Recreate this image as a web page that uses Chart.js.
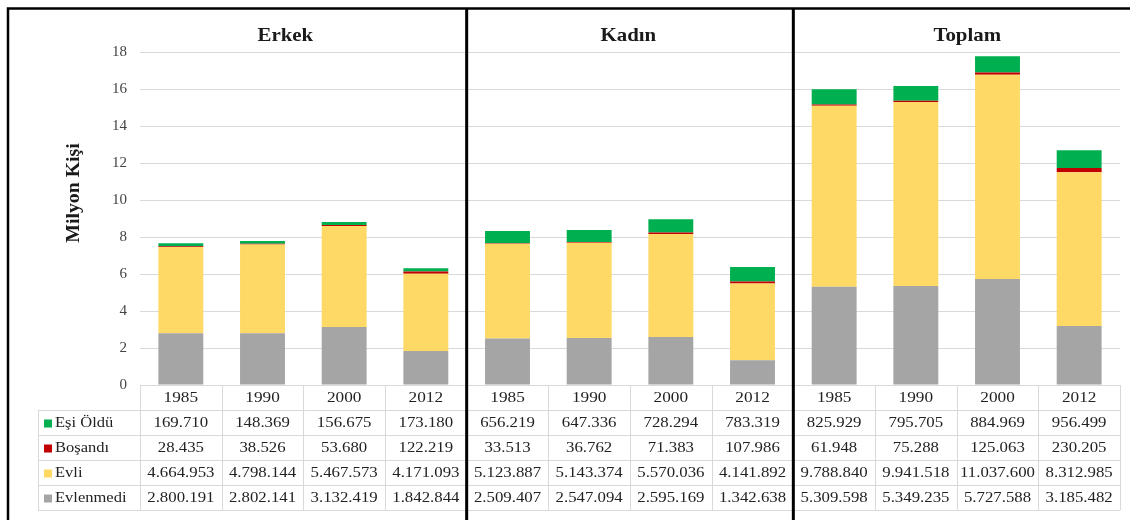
<!DOCTYPE html>
<html><head><meta charset="utf-8">
<script src="https://cdn.jsdelivr.net/npm/chart.js@4/dist/chart.umd.min.js"></script>
<style>html,body{margin:0;padding:0;background:#fff;}#wrap{width:1130px;height:520px;position:relative;}</style>
</head><body><div id="wrap"><canvas id="c" width="1130" height="520"></canvas></div>
<script>
// ---- data ----
const years = ['1985','1990','2000','2012','1985','1990','2000','2012','1985','1990','2000','2012'];
const groupTitles = ['Erkek','Kadın','Toplam'];
const groupTitlePos = [1.28, 5.48, 9.63];
const seriesNames = ['Eşi Öldü','Boşandı','Evli','Evlenmedi'];
const seriesColors = ['#00B050','#C00000','#FFD966','#A5A5A5'];
const esiOldu = [169710,148369,156675,173180,656219,647336,728294,783319,825929,795705,884969,956499];
const bosandi = [28435,38526,53680,122219,33513,36762,71383,107986,61948,75288,125063,230205];
const evli = [4664953,4798144,5467573,4171093,5123887,5143374,5570036,4141892,9788840,9941518,11037600,8312985];
const evlenmedi = [2800191,2802141,3132419,1842844,2509407,2547094,2595169,1342638,5309598,5349235,5727588,3185482];
const yTicks = [0,2,4,6,8,10,12,14,16,18];
const yTitle = 'Milyon Kişi';

const seriesValues = [esiOldu, bosandi, evli, evlenmedi];
const fmt = n => String(n).replace(/\B(?=(\d{3})+(?!\d))/g, '.');
const SERIF = '"Liberation Serif","DejaVu Serif",serif';

function stretchText(ctx, text, x, y, font, sx, align, color){
  ctx.save();
  ctx.font = font; ctx.fillStyle = color || '#222';
  ctx.textBaseline = 'middle'; ctx.textAlign = align || 'center';
  ctx.translate(x, y); ctx.scale(sx, 1);
  ctx.fillText(text, 0, 0);
  ctx.restore();
}

const decor = {
  id: 'decor',
  afterDraw(chart){
    const ctx = chart.ctx, xs = chart.scales.x, ca = chart.chartArea;
    const step = xs.getPixelForValue(1) - xs.getPixelForValue(0);
    const rowH = 25, top = ca.bottom, n = years.length;
    const legLeft = 38;
    const bnd = i => xs.getPixelForValue(i) - step/2;
    const right = bnd(n);
    // table grid
    ctx.save();
    ctx.strokeStyle = '#D9D9D9'; ctx.lineWidth = 1;
    for (let k = 1; k <= 5; k++){
      const yy = Math.round(top + k*rowH) + 0.5;
      ctx.beginPath(); ctx.moveTo(legLeft, yy); ctx.lineTo(right, yy); ctx.stroke();
    }
    for (let i = 0; i <= n; i++){
      const xx = Math.round(bnd(i)) + 0.5;
      ctx.beginPath(); ctx.moveTo(xx, top); ctx.lineTo(xx, top + 5*rowH); ctx.stroke();
    }
    ctx.beginPath(); ctx.moveTo(legLeft+0.5, top+rowH); ctx.lineTo(legLeft+0.5, top+5*rowH); ctx.stroke();
    ctx.restore();
    // year row
    const tf = '15px ' + SERIF;
    years.forEach((yv, i) => stretchText(ctx, yv, xs.getPixelForValue(i), top + rowH/2 + 1, tf, 1.15));
    // series rows
    seriesNames.forEach((nm, r) => {
      const cy = top + (r+1)*rowH + rowH/2 + 1;
      ctx.fillStyle = seriesColors[r];
      ctx.fillRect(44, cy - 4, 8, 8);
      stretchText(ctx, nm, 55, cy, tf, 1.1, 'left');
      seriesValues[r].forEach((v, i) => stretchText(ctx, fmt(v), xs.getPixelForValue(i), cy, tf, 1.12));
    });
    // panel titles
    groupTitles.forEach((t, g) => stretchText(ctx, t, xs.getPixelForValue(groupTitlePos[g]), 36, 'bold 19px ' + SERIF, 1.1, 'center', '#1a1a1a'));
    // y axis title
    ctx.save();
    ctx.translate(74, 193); ctx.rotate(-Math.PI/2); ctx.scale(1.1, 1);
    ctx.font = 'bold 18px ' + SERIF; ctx.fillStyle = '#1a1a1a';
    ctx.textAlign = 'center'; ctx.textBaseline = 'middle';
    ctx.fillText(yTitle, 0, 0);
    ctx.restore();
    // borders and dividers
    ctx.save();
    ctx.strokeStyle = '#000';
    ctx.lineWidth = 2.5;
    ctx.beginPath(); ctx.moveTo(8, 520); ctx.lineTo(8, 8.5); ctx.lineTo(1130, 8.5); ctx.stroke();
    ctx.lineWidth = 3;
    [4, 8].forEach(i => { const xx = bnd(i); ctx.beginPath(); ctx.moveTo(xx, 8); ctx.lineTo(xx, 520); ctx.stroke(); });
    ctx.restore();
  }
};

const order = [3, 2, 1, 0]; // stack bottom -> top
const datasets = order.map(r => ({
  label: seriesNames[r],
  data: seriesValues[r].map(v => v / 1e6),
  backgroundColor: seriesColors[r],
  borderWidth: 0,
  barPercentage: 0.55,
  categoryPercentage: 1.0
}));

new Chart(document.getElementById('c'), {
  type: 'bar',
  data: { labels: years.map((y, i) => y + '#' + i), datasets },
  options: {
    responsive: false, animation: false,
    layout: { padding: { top: 52, bottom: 135, right: 10, left: 0 } },
    plugins: { legend: { display: false }, tooltip: { enabled: false } },
    scales: {
      x: { stacked: true, display: false },
      y: {
        stacked: true, min: 0, max: 18,
        afterFit: s => { s.width = 140; },
        afterBuildTicks: s => { s.ticks = yTicks.map(v => ({ value: v })); },
        border: { display: false },
        grid: { color: '#D9D9D9', lineWidth: 1, drawTicks: false },
        ticks: { padding: 13, color: '#444', font: { family: SERIF, size: 15 } }
      }
    }
  },
  plugins: [decor]
});
</script>
</body></html>
